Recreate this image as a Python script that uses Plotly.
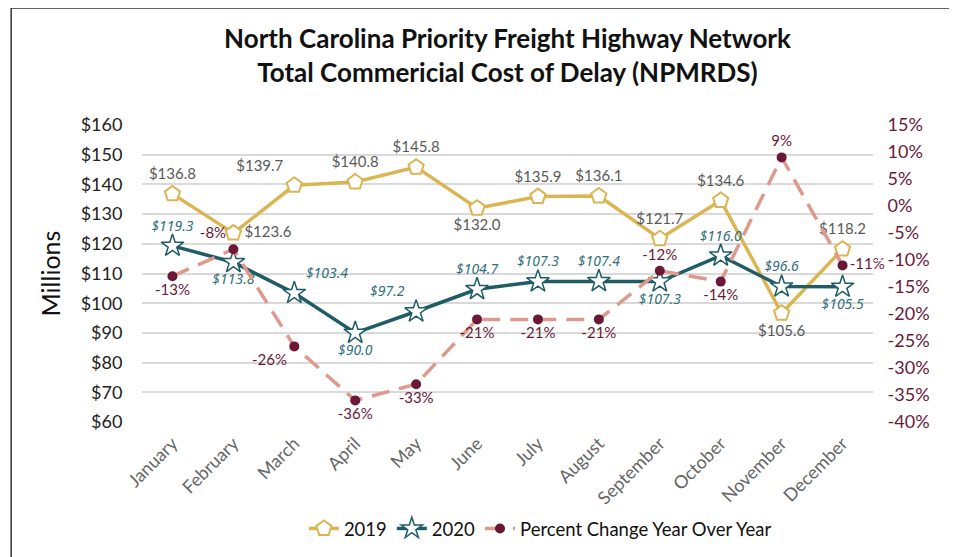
import plotly.graph_objects as go

months = ["January", "February", "March", "April", "May", "June", "July",
          "August", "September", "October", "November", "December"]
cost_2019 = [136.8, 123.6, 139.7, 140.8, 145.8, 132.0, 135.9, 136.1, 121.7, 134.6, 96.6, 118.2]
cost_2019_labels = ["$136.8", "$123.6", "$139.7", "$140.8", "$145.8", "$132.0", "$135.9",
                    "$136.1", "$121.7", "$134.6", "$105.6", "$118.2"]
cost_2020 = [119.3, 113.8, 103.4, 90.0, 97.2, 104.7, 107.3, 107.4, 107.3, 116.0, 105.6, 105.5]
cost_2020_labels = ["$119.3", "$113.8", "$103.4", "$90.0", "$97.2", "$104.7", "$107.3",
                    "$107.4", "$107.3", "$116.0", "$96.6", "$105.5"]
pct_change = [-13, -8, -26, -36, -33, -21, -21, -21, -12, -14, 9, -11]
pct_labels = ["-13%", "-8%", "-26%", "-36%", "-33%", "-21%", "-21%", "-21%", "-12%", "-14%", "9%", "-11%"]

left_ticks = [60, 70, 80, 90, 100, 110, 120, 130, 140, 150, 160]
left_tick_text = ["$" + str(v) for v in left_ticks]
right_ticks = [-40, -35, -30, -25, -20, -15, -10, -5, 0, 5, 10, 15]
right_tick_text = [str(v) + "%" for v in right_ticks]

GOLD = "#dbb552"
TEAL = "#1f5c66"
PINK = "#dd9a8c"
MAROON = "#6b1838"
FONT = "Lato, 'Noto Sans', sans-serif"
NARROW = "'Liberation Sans Narrow', 'Noto Sans', sans-serif"

pos_2019 = ["top center", "middle right", "top left", "top center", "top center", "bottom center",
            "top center", "top center", "top center", "top center", "bottom center", "top center"]
pos_2020 = ["top center", "bottom center", "top right", "bottom center", "top left", "top center",
            "top center", "top center", "bottom center", "top center", "top center", "bottom center"]
pos_pct = ["bottom center", "top left", "bottom left", "bottom center", "bottom center", "bottom center",
           "bottom center", "bottom center", "top center", "bottom center", "top center", "middle right"]

fig = go.Figure()
fig.add_trace(go.Scatter(
    x=months, y=cost_2019, name="2019", mode="lines+markers+text", cliponaxis=False,
    line=dict(color=GOLD, width=3.5),
    marker=dict(symbol="pentagon", size=16, color="white", line=dict(color=GOLD, width=2)),
    text=cost_2019_labels, textposition=pos_2019,
    textfont=dict(family=FONT, size=15, color="#595959"),
))
fig.add_trace(go.Scatter(
    x=months, y=cost_2020, name="2020", mode="lines+markers+text", cliponaxis=False,
    line=dict(color=TEAL, width=3.5),
    marker=dict(symbol="star", size=17, color="white", line=dict(color=TEAL, width=1.5)),
    text=["<i>" + t + "</i>" for t in cost_2020_labels], textposition=pos_2020,
    textfont=dict(family=NARROW, size=14, color="#2f6f7a"),
))
fig.add_trace(go.Scatter(
    x=months, y=pct_change, name="Percent Change Year Over Year", mode="lines+markers+text",
    yaxis="y2", cliponaxis=False,
    line=dict(color=PINK, width=3.5, dash="18px,10px"),
    marker=dict(symbol="circle", size=10, color=MAROON),
    text=pct_labels, textposition=pos_pct,
    textfont=dict(family=FONT, size=15, color=MAROON),
))

fig.update_layout(
    width=957, height=557,
    margin=dict(l=134, r=92, t=117, b=143),
    paper_bgcolor="white", plot_bgcolor="white",
    font=dict(family=FONT, color="#222222"),
    title=dict(
        text="<b>North Carolina Priority Freight Highway Network<br>Total Commericial Cost of Delay (NPMRDS)</b>",
        x=0.5, xref="paper", y=0.928, yref="container", yanchor="top", xanchor="center",
        font=dict(family=FONT, size=26, color="#111111"),
    ),
    xaxis=dict(
        type="category", range=[-0.5, 11.5], tickangle=-45, automargin=False,
        tickfont=dict(family=FONT, size=18, color="#666666"),
        showgrid=False, zeroline=False, showline=False, ticks="outside", ticklen=3, tickcolor="white",
    ),
    yaxis=dict(
        range=[60, 160], tickvals=left_ticks, ticktext=left_tick_text, automargin=False,
        tickfont=dict(family=FONT, size=18, color="#222222"),
        gridcolor="#d9d9d9", gridwidth=1.5, zeroline=False, showline=False,
        ticks="outside", ticklen=15, tickcolor="white",
        title=dict(text="Millions", font=dict(family=FONT, size=25, color="#111111"), standoff=12),
    ),
    yaxis2=dict(
        range=[-40, 15], tickvals=right_ticks, ticktext=right_tick_text, overlaying="y", side="right",
        automargin=False,
        tickfont=dict(family=FONT, size=18, color=MAROON),
        showgrid=False, zeroline=False, showline=False,
        ticks="outside", ticklen=10, tickcolor="white",
    ),
    legend=dict(
        orientation="h", x=0.545, xanchor="center", y=-0.36, yanchor="middle",
        font=dict(family=FONT, size=18.5, color="#111111"),
    ),
    showlegend=True,
    shapes=[dict(
        type="rect", xref="paper", yref="paper",
        x0=-0.179, x1=1.117, y0=-0.6, y1=1.394,
        line=dict(color="#333333", width=1.5), fillcolor="rgba(0,0,0,0)", layer="below",
    )],
)

fig.write_html("out.html")
